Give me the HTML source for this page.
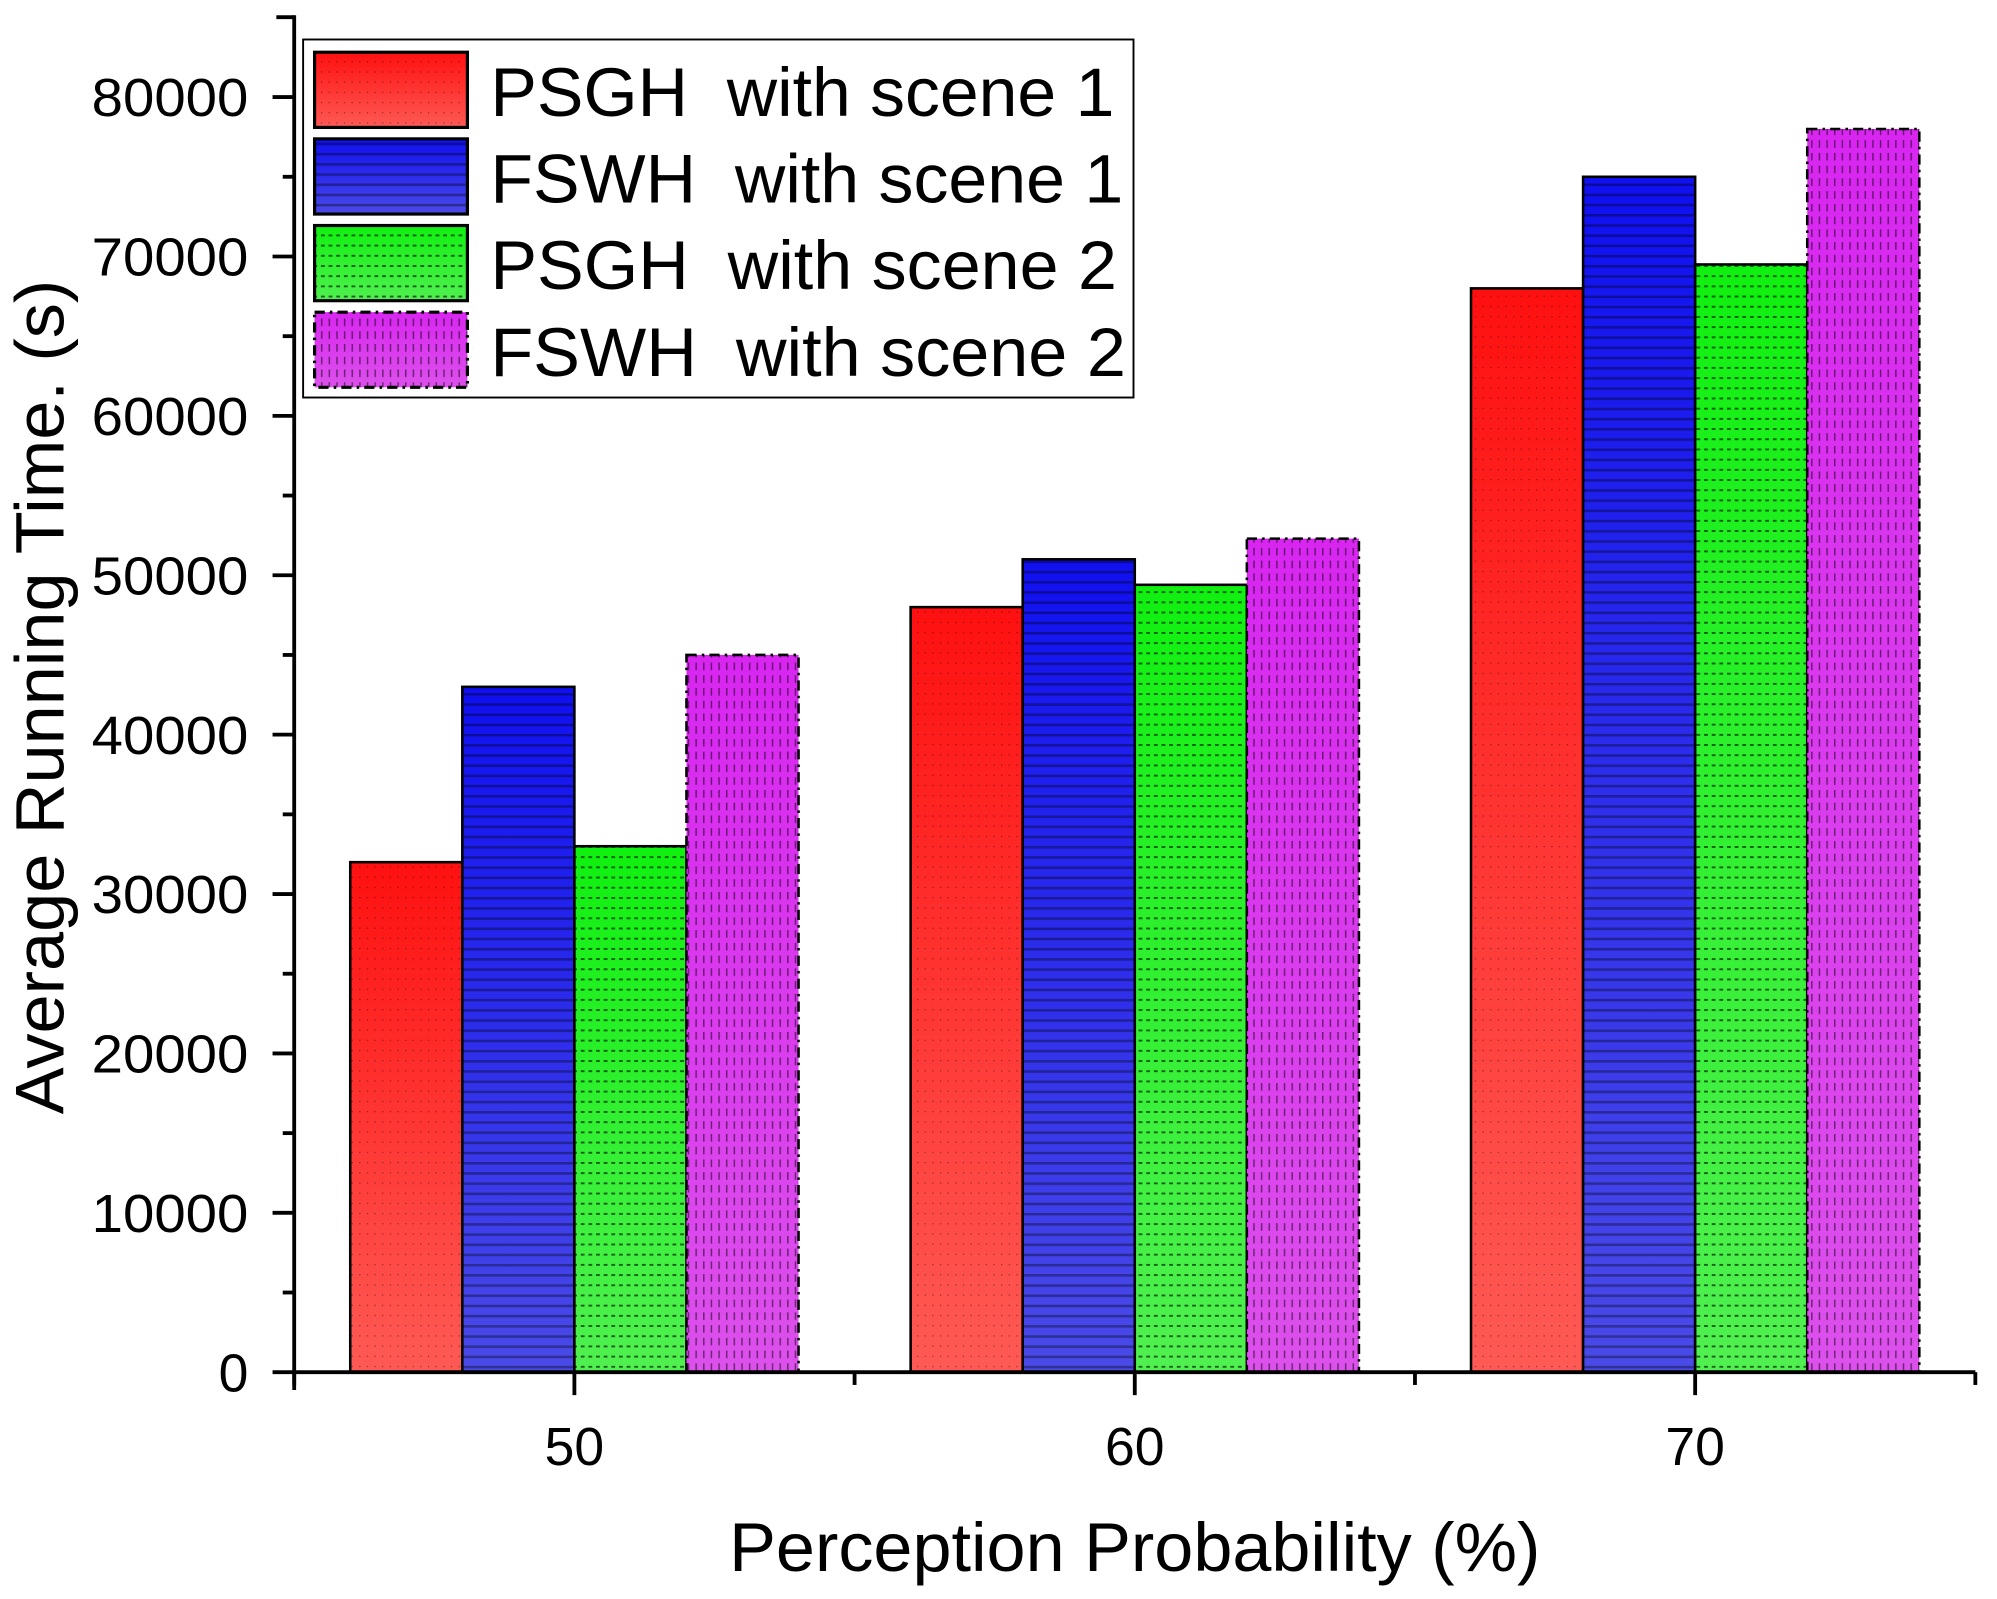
<!DOCTYPE html>
<html><head><meta charset="utf-8"><style>
html,body{margin:0;padding:0;background:#fff}
svg{display:block}
text{font-family:"Liberation Sans",Arial,sans-serif;fill:#000}
</style></head><body>
<svg id="chart" width="1997" height="1599" viewBox="0 0 1568 1255" preserveAspectRatio="none" xmlns="http://www.w3.org/2000/svg">
<defs>
<linearGradient id="gRed" x1="0" y1="0" x2="0" y2="1"><stop offset="0" stop-color="#ff1010"/><stop offset="1" stop-color="#ff5a55"/></linearGradient>
<linearGradient id="gBlue" x1="0" y1="0" x2="0" y2="1"><stop offset="0" stop-color="#1010f0"/><stop offset="1" stop-color="#4a4ae8"/></linearGradient>
<linearGradient id="gGreen" x1="0" y1="0" x2="0" y2="1"><stop offset="0" stop-color="#10f010"/><stop offset="1" stop-color="#50f050"/></linearGradient>
<linearGradient id="gMag" x1="0" y1="0" x2="0" y2="1"><stop offset="0" stop-color="#d826f0"/><stop offset="1" stop-color="#dc50ec"/></linearGradient>
<pattern id="pBlue" width="8" height="8" patternUnits="userSpaceOnUse"><rect width="8" height="2" fill="#000" opacity="0.35"/></pattern>
<pattern id="pGreen" width="6" height="8" patternUnits="userSpaceOnUse"><rect width="3" height="1.5" fill="#000" opacity="0.6"/></pattern>
<pattern id="pMag" width="6" height="10" patternUnits="userSpaceOnUse"><rect width="1.2" height="6" fill="#000" opacity="0.5"/></pattern>
<pattern id="pRed" width="6" height="8" patternUnits="userSpaceOnUse"><rect width="1" height="1" fill="#000" opacity="0.4"/></pattern>
</defs>
<g id="bars"></g>
<g id="axes"></g>
<text transform="translate(50,547) rotate(-90)" text-anchor="middle" font-size="54" textLength="655" lengthAdjust="spacingAndGlyphs">Average Running Time. (s)</text>
<text x="891" y="1233" text-anchor="middle" font-size="54" textLength="637" lengthAdjust="spacingAndGlyphs">Perception Probability (%)</text>
<g id="legend">
<rect x="238" y="31" width="652" height="281" fill="#fff" stroke="#000" stroke-width="1.5"/>
</g>
</svg>
<script>
const categories = [50, 60, 70];
const seriesNames = ["PSGH  with scene 1","FSWH  with scene 1","PSGH  with scene 2","FSWH  with scene 2"];
const psghScene1 = [32000, 48000, 68000];
const fswhScene1 = [43000, 51000, 75000];
const psghScene2 = [33000, 49400, 69500];
const fswhScene2 = [45000, 52300, 78000];
const yTicks = [0,10000,20000,30000,40000,50000,60000,70000,80000];

const NS="http://www.w3.org/2000/svg";
const series=[psghScene1,fswhScene1,psghScene2,fswhScene2];
const fills=["url(#gRed)","url(#gBlue)","url(#gGreen)","url(#gMag)"];
const pats=["url(#pRed)","url(#pBlue)","url(#pGreen)","url(#pMag)"];
const dashes=[null,null,null,"8 4 2 4"];
const legendLens=[490,497,492,499];
const X0=231,X1=1551,Y0=1077,PER=125.1/10000;
function yScale(v){return Y0-v*PER;}
function xScale(c){return 451+(c-50)*44;}
const BW=88;
function mk(tag,attrs,parent){const e=document.createElementNS(NS,tag);for(const k in attrs)e.setAttribute(k,attrs[k]);parent.appendChild(e);return e;}
const bars=document.getElementById('bars');
series.forEach((s,si)=>{
  categories.forEach((c,ci)=>{
    const x=xScale(c)-2*BW+si*BW, y=yScale(s[ci]), h=Y0-y;
    const r=mk('rect',{x:x,y:y,width:BW,height:h,fill:fills[si]},bars);
    
    
    const p=mk('rect',{x:x,y:y,width:BW,height:h,fill:pats[si]},bars);
    
    
    const o=mk('rect',{x:x,y:y,width:BW,height:h,fill:'none',stroke:'#000','stroke-width':2},bars);
    if(dashes[si])o.setAttribute('stroke-dasharray',dashes[si]);
    
    
  });
});
const axes=document.getElementById('axes');
const ya=mk('line',{x1:X0,y1:12,x2:X0,y2:Y0+14,stroke:'#000','stroke-width':3},axes);


const xa=mk('line',{x1:X0-1.5,y1:Y0,x2:X1,y2:Y0,stroke:'#000','stroke-width':3},axes);


mk('line',{x1:X0,y1:13.5,x2:X0-14,y2:13.5,stroke:'#000','stroke-width':3},axes);
yTicks.forEach(v=>{
  const y=yScale(v);
  mk('line',{x1:X0,y1:y,x2:X0-17,y2:y,stroke:'#000','stroke-width':3},axes);
  if(v<80000){const ym=yScale(v+5000);mk('line',{x1:X0,y1:ym,x2:X0-9,y2:ym,stroke:'#000','stroke-width':3},axes);}
  const t=mk('text',{x:195,y:y+15,'text-anchor':'end','font-size':42},axes);
  if(v>0){t.setAttribute('textLength',123);t.setAttribute('lengthAdjust','spacingAndGlyphs');}
  t.textContent=v;
  
  
});
categories.forEach(c=>{
  const x=xScale(c);
  mk('line',{x1:x,y1:Y0,x2:x,y2:Y0+18,stroke:'#000','stroke-width':3},axes);
  const t=mk('text',{x:x,y:1150,'text-anchor':'middle','font-size':42},axes);
  t.textContent=c;
  
  
});
[45,55,65,75].forEach(c=>{const x=xScale(c);mk('line',{x1:x,y1:Y0,x2:x,y2:Y0+10,stroke:'#000','stroke-width':3},axes);});
const legend=document.getElementById('legend');
seriesNames.forEach((n,i)=>{
  const y=41+i*68;
  mk('rect',{x:247,y:y,width:120,height:59,fill:fills[i]},legend);
  mk('rect',{x:247,y:y,width:120,height:59,fill:pats[i]},legend);
  const o=mk('rect',{x:247,y:y,width:120,height:59,fill:'none',stroke:'#000','stroke-width':2.5},legend);
  if(dashes[i])o.setAttribute('stroke-dasharray',dashes[i]);
  
  
  const t=mk('text',{x:385,y:y+50,'font-size':54,textLength:legendLens[i],lengthAdjust:'spacingAndGlyphs'},legend);
  t.setAttribute('style','white-space:pre');
  t.textContent=n;
  
  
});
</script>
</body></html>
